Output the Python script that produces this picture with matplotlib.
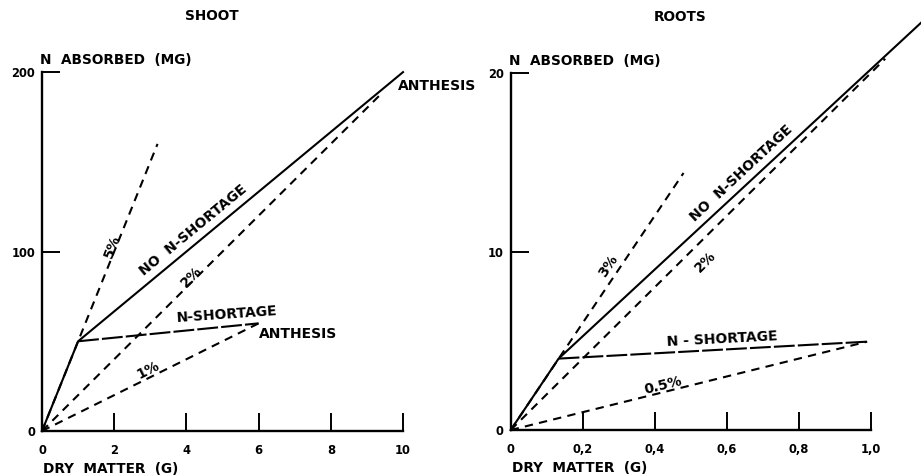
import matplotlib
matplotlib.use('Agg')
import matplotlib.pyplot as plt

# shoot panel (dry matter g, N mg)
shoot_pct_labels = ['5%', '2%', '1%']
shoot_pct_x_end = [3.2, 9.4, 6.0]
shoot_pct_y_end = [160, 188, 60]
shoot_no_short_x = [0, 1.0, 10.0]
shoot_no_short_y = [0, 50, 200]
shoot_short_x = [1.0, 6.0]
shoot_short_y = [50, 60]
shoot_xticks = [0, 2, 4, 6, 8, 10]
shoot_yticks = [0, 100, 200]

# roots panel
roots_pct_labels = ['3%', '2%', '0.5%']
roots_pct_x_end = [0.48, 1.04, 0.99]
roots_pct_y_end = [14.4, 20.8, 4.95]
roots_no_short_x = [0, 0.133, 1.16]
roots_no_short_y = [0, 4.0, 23.2]
roots_short_x = [0.133, 0.99]
roots_short_y = [4.0, 4.95]
roots_xticks = [0, 0.2, 0.4, 0.6, 0.8, 1.0]
roots_xticklabels = ['0', '0,2', '0,4', '0,6', '0,8', '1,0']
roots_yticks = [0, 10, 20]

plt.rcParams['font.family'] = 'DejaVu Sans'
plt.rcParams['font.weight'] = 'bold'

fig = plt.figure(figsize=(9.21, 4.76), dpi=100)
ax1 = fig.add_axes([0.0456, 0.0945, 0.392, 0.754])
ax2 = fig.add_axes([0.5545, 0.0966, 0.391, 0.750])

dash = (4, 3)
lw = 1.5


def setup(ax, xlim, ylim, xticks, yticks, xticklabels, title):
    ax.set_xlim(*xlim)
    ax.set_ylim(*ylim)
    for s in ['top', 'right']:
        ax.spines[s].set_visible(False)
    for s in ['left', 'bottom']:
        ax.spines[s].set_linewidth(1.7)
    ax.set_xticks(xticks)
    ax.set_xticklabels(xticklabels)
    ax.set_yticks(yticks)
    ax.tick_params(direction='in', length=13, width=1.4, labelsize=8.3)
    ax.tick_params(axis='x', pad=9)
    ax.tick_params(axis='y', pad=5)
    ax.text(-0.005, 1.033, 'N  ABSORBED  (MG)', transform=ax.transAxes,
            fontsize=9.8, ha='left', va='center')
    ax.text(0.003, -0.106, 'DRY  MATTER  (G)', transform=ax.transAxes,
            fontsize=9.8, ha='left', va='center')
    ax.text(0.47, 1.156, title, transform=ax.transAxes,
            fontsize=9.8, ha='center', va='center')


setup(ax1, (0, 10), (0, 200), shoot_xticks, shoot_yticks,
      [str(t) for t in shoot_xticks], 'SHOOT')
setup(ax2, (0, 1.0), (0, 20), roots_xticks, roots_yticks,
      roots_xticklabels, 'ROOTS')

# shoot lines
for xe, ye in zip(shoot_pct_x_end, shoot_pct_y_end):
    ax1.plot([0, xe], [0, ye], color='black', lw=lw, dashes=dash, clip_on=False)
ax1.plot(shoot_no_short_x, shoot_no_short_y, color='black', lw=lw, clip_on=False)
ax1.plot(shoot_short_x, shoot_short_y, color='black', lw=lw, dashes=(10, 1.5), clip_on=False)

fs = 10
ax1.text(1.95, 103, shoot_pct_labels[0], rotation=69, fontsize=fs, ha='center', va='center')
ax1.text(4.15, 86, shoot_pct_labels[1], rotation=45, fontsize=fs, ha='center', va='center')
ax1.text(2.95, 34, shoot_pct_labels[2], rotation=27, fontsize=fs, ha='center', va='center')
ax1.text(4.2, 112, 'NO  N-SHORTAGE', rotation=39.5, fontsize=fs, ha='center', va='center')
ax1.text(5.12, 65, 'N-SHORTAGE', rotation=4, fontsize=fs, ha='center', va='center')
ax1.text(6.0, 54, 'ANTHESIS', fontsize=fs, ha='left', va='center')
ax1.text(9.87, 192, 'ANTHESIS', fontsize=fs, ha='left', va='center')

# roots lines
for xe, ye in zip(roots_pct_x_end, roots_pct_y_end):
    ax2.plot([0, xe], [0, ye], color='black', lw=lw, dashes=dash, clip_on=False)
ax2.plot(roots_no_short_x, roots_no_short_y, color='black', lw=lw, clip_on=False)
ax2.plot(roots_short_x, roots_short_y, color='black', lw=lw, dashes=(10, 1.5), clip_on=False)

ax2.text(0.27, 9.2, roots_pct_labels[0], rotation=56, fontsize=fs, ha='center', va='center')
ax2.text(0.54, 9.4, roots_pct_labels[1], rotation=45, fontsize=fs, ha='center', va='center')
ax2.text(0.423, 2.5, roots_pct_labels[2], rotation=14, fontsize=fs, ha='center', va='center')
ax2.text(0.64, 14.4, 'NO  N-SHORTAGE', rotation=43, fontsize=fs, ha='center', va='center')
ax2.text(0.586, 5.1, 'N - SHORTAGE', rotation=3, fontsize=fs, ha='center', va='center')

fig.savefig('out.png', dpi=100)
